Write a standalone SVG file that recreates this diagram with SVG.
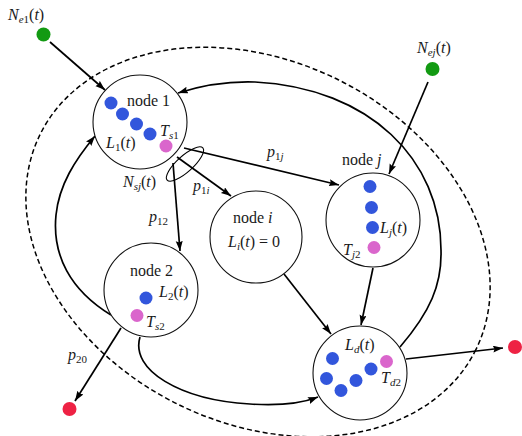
<svg xmlns="http://www.w3.org/2000/svg" width="522" height="436" viewBox="0 0 522 436" font-family="'Liberation Serif', 'Times New Roman', serif">
<style>
.t{font-family:'Liberation Serif','Times New Roman',serif;font-size:16px;fill:#1a1a1a}
.i{font-style:italic}
.s{font-size:11px}
.node{fill:#fff;stroke:#111;stroke-width:1.1}
.ar{fill:none;stroke:#000;stroke-width:1.7;marker-end:url(#ah)}
.b{fill:#3256dc}
.p{fill:#da66cc}
.g{fill:#129a12}
.r{fill:#ee2244}
</style>
<defs>
<marker id="ah" markerUnits="userSpaceOnUse" markerWidth="12" markerHeight="8" refX="10" refY="3.5" orient="auto">
<path d="M0,0 L10,3.5 L0,7 L1.5,3.5 z" fill="#000"/>
</marker>
</defs>
<rect width="522" height="436" fill="#fff"/>
<ellipse cx="258" cy="242" rx="243" ry="181" transform="rotate(26.3 258 242)" fill="none" stroke="#000" stroke-width="1.5" stroke-dasharray="5 3"/>
<g id="connectors">
<path class="ar" d="M50,42 L105,90"/>
<path class="ar" d="M428,82 L389,174"/>
<path class="ar" d="M173,163 L180,251"/>
<path class="ar" d="M177,157 L231,196"/>
<path class="ar" d="M184,148 L339,185"/>
<path class="ar" d="M284,274 L331,334"/>
<path class="ar" d="M373,268 L361,325"/>
<path class="ar" d="M406,359 L503,348"/>
<path class="ar" d="M121,328 L75,401"/>
<path class="ar" d="M400,347 C430,312 442,285 441,250 C441,160 370,88 255,82 C225,81 200,86 178,93"/>
<path class="ar" d="M111,315 C70,290 52,255 56,215 C59,185 75,160 95,136"/>
<path class="ar" d="M140,337 C130,370 180,400 250,404 C280,406 300,404 318,397"/>
<ellipse cx="185" cy="164" rx="24" ry="8" transform="rotate(-42 185 164)" fill="none" stroke="#000" stroke-width="1.1"/>
</g>
<g id="node1">
<circle class="node" cx="140" cy="122" r="47"/>
<circle class="b" cx="111" cy="103" r="6.5"/>
<circle class="b" cx="122.5" cy="114" r="6.5"/>
<circle class="b" cx="136.5" cy="124" r="6.5"/>
<circle class="b" cx="150" cy="134" r="6.5"/>
<circle class="p" cx="166" cy="146" r="6.5"/>
<text class="t" x="127" y="106">node 1</text>
<text class="t" x="160" y="136"><tspan class="i">T</tspan><tspan class="s i" dy="3">s</tspan><tspan class="s">1</tspan></text>
<text class="t" x="106" y="148"><tspan class="i">L</tspan><tspan class="s" dy="3">1</tspan><tspan dy="-3">(</tspan><tspan class="i">t</tspan>)</text>
</g>
<g id="node2">
<circle class="node" cx="151" cy="290" r="47"/>
<circle class="b" cx="146" cy="298" r="6.5"/>
<circle class="p" cx="137" cy="315.5" r="6.5"/>
<text class="t" x="130" y="276">node 2</text>
<text class="t" x="159" y="297"><tspan class="i">L</tspan><tspan class="s" dy="3">2</tspan><tspan dy="-3">(</tspan><tspan class="i">t</tspan>)</text>
<text class="t" x="146" y="327"><tspan class="i">T</tspan><tspan class="s i" dy="3">s</tspan><tspan class="s">2</tspan></text>
</g>
<g id="nodei">
<circle class="node" cx="256" cy="237" r="46"/>
<text class="t" x="233" y="223">node <tspan class="i">i</tspan></text>
<text class="t" x="228" y="247"><tspan class="i">L</tspan><tspan class="s i" dy="3">i</tspan><tspan dy="-3">(</tspan><tspan class="i">t</tspan>) = 0</text>
</g>
<g id="nodej">
<circle class="node" cx="373" cy="220" r="47"/>
<circle class="b" cx="370" cy="186.5" r="6.5"/>
<circle class="b" cx="371.5" cy="207.5" r="6.5"/>
<circle class="b" cx="372.5" cy="227.5" r="6.5"/>
<circle class="p" cx="374" cy="247.5" r="6.5"/>
<text class="t" x="342" y="165">node <tspan class="i">j</tspan></text>
<text class="t" x="380" y="233"><tspan class="i">L</tspan><tspan class="s i" dy="3">j</tspan><tspan dy="-3">(</tspan><tspan class="i">t</tspan>)</text>
<text class="t" x="343" y="255"><tspan class="i">T</tspan><tspan class="s i" dy="3">j</tspan><tspan class="s">2</tspan></text>
</g>
<g id="noded">
<circle class="node" cx="360" cy="373" r="47"/>
<circle class="b" cx="332.5" cy="358.5" r="6.5"/>
<circle class="b" cx="326.5" cy="378.5" r="6.5"/>
<circle class="b" cx="341" cy="390.5" r="6.5"/>
<circle class="b" cx="356" cy="380.5" r="6.5"/>
<circle class="b" cx="371" cy="369" r="6.5"/>
<circle class="p" cx="386.5" cy="361.5" r="6.5"/>
<text class="t" x="345" y="350"><tspan class="i">L</tspan><tspan class="s i" dy="3">d</tspan><tspan dy="-3">(</tspan><tspan class="i">t</tspan>)</text>
<text class="t" x="381" y="383"><tspan class="i">T</tspan><tspan class="s i" dy="3">d</tspan><tspan class="s">2</tspan></text>
</g>
<g id="ne1">
<circle class="g" cx="43.5" cy="34.5" r="7"/>
<text class="t" x="8" y="20"><tspan class="i">N</tspan><tspan class="s i" dy="3">e</tspan><tspan class="s">1</tspan><tspan dy="-3">(</tspan><tspan class="i">t</tspan>)</text>
</g>
<g id="nej">
<circle class="g" cx="432.5" cy="69" r="7"/>
<text class="t" x="417" y="53"><tspan class="i">N</tspan><tspan class="s i" dy="3">ej</tspan><tspan dy="-3">(</tspan><tspan class="i">t</tspan>)</text>
</g>
<g id="sink2">
<circle class="r" cx="69.5" cy="409" r="7"/>
</g>
<g id="sinkd">
<circle class="r" cx="515" cy="347" r="7"/>
</g>
<g id="labels">
<text class="t" x="123" y="187"><tspan class="i">N</tspan><tspan class="s i" dy="3">sj</tspan><tspan dy="-3">(</tspan><tspan class="i">t</tspan>)</text>
<text class="t" x="193" y="191"><tspan class="i">p</tspan><tspan class="s" dy="3">1</tspan><tspan class="s i">i</tspan></text>
<text class="t" x="149" y="222"><tspan class="i">p</tspan><tspan class="s" dy="3">12</tspan></text>
<text class="t" x="267" y="157"><tspan class="i">p</tspan><tspan class="s" dy="3">1</tspan><tspan class="s i">j</tspan></text>
<text class="t" x="68" y="360"><tspan class="i">p</tspan><tspan class="s" dy="3">20</tspan></text>
</g>
</svg>
